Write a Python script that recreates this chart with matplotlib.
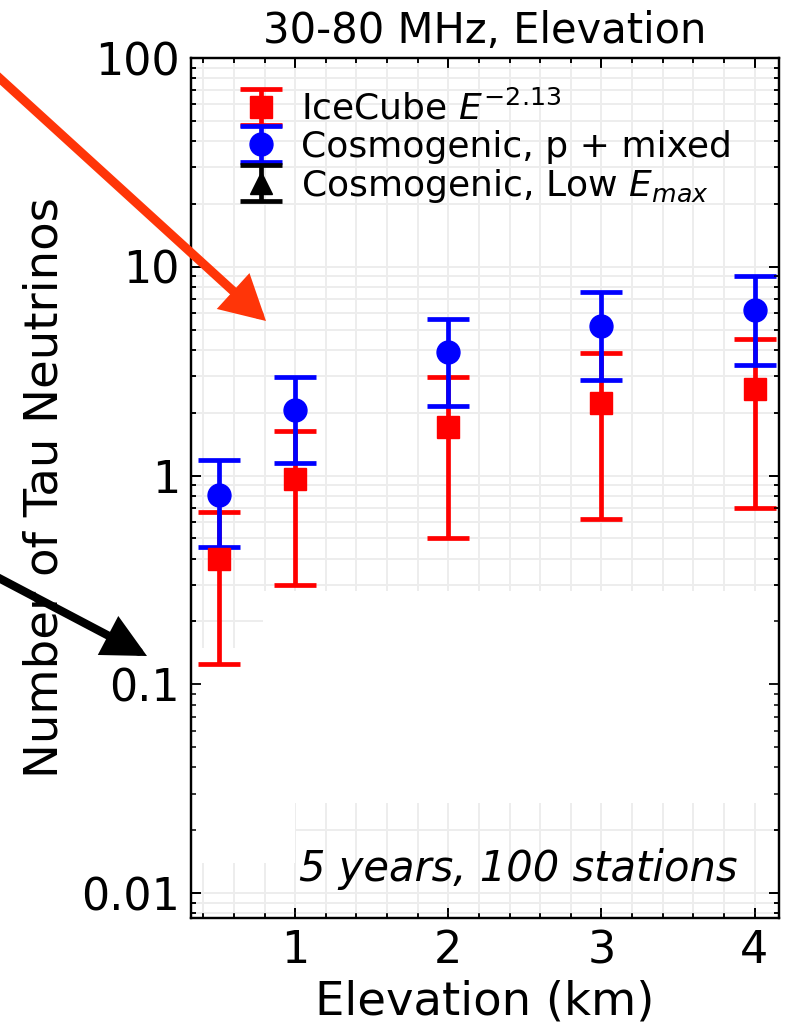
import matplotlib
matplotlib.use("Agg")
import numpy as np
import matplotlib.pyplot as plt
import matplotlib.ticker as ticker
from matplotlib.patches import Rectangle, FancyArrowPatch

# elevation (km) and event counts
elevation = [0.5, 1, 2, 3, 4]

icecube = [0.40, 0.96, 1.71, 2.23, 2.61]
icecube_lo = [0.125, 0.30, 0.50, 0.62, 0.70]
icecube_hi = [0.67, 1.63, 2.95, 3.85, 4.52]

cosmo_mixed = [0.81, 2.06, 3.89, 5.2, 6.23]
cosmo_mixed_lo = [0.457, 1.15, 2.15, 2.86, 3.39]
cosmo_mixed_hi = [1.19, 2.97, 5.62, 7.56, 9.05]

# low Emax model: no point shows up inside the plotted range
cosmo_low = [np.nan] * 5
cosmo_low_lo = [np.nan] * 5
cosmo_low_hi = [np.nan] * 5

labels = [r"IceCube $E^{-2.13}$", "Cosmogenic, p + mixed", r"Cosmogenic, Low $E_{max}$"]

W, H = 789, 1024
fig = plt.figure(figsize=(W / 100, H / 100), dpi=100)
left, right, top, bottom = 191, 779, 58, 918
pos = [left / W, 1 - bottom / H, (right - left) / W, (bottom - top) / H]
ax = fig.add_axes(pos)
ax.set_yscale("log")
ax.set_xlim(0.32, 4.16)
ax.set_ylim(0.0076, 100)
ax.set_axisbelow(True)

ax.xaxis.set_major_locator(ticker.MultipleLocator(1))
ax.xaxis.set_minor_locator(ticker.MultipleLocator(0.2))
ax.yaxis.set_major_locator(ticker.LogLocator(base=10, numticks=20))
ax.yaxis.set_minor_locator(ticker.LogLocator(base=10, subs=range(2, 10), numticks=100))
ax.yaxis.set_major_formatter(ticker.FuncFormatter(lambda v, _: f"{v:g}"))
ax.yaxis.set_minor_formatter(ticker.NullFormatter())
ax.grid(True, which="both", color="#ededed", lw=1.4)

# erased grid areas in the original picture
for x0, x1, y0, y1 in [(0.32, 0.79, 0.014, 0.15), (0.79, 1.0, 0.014, 0.28), (1.0, 4.16, 0.027, 0.28)]:
    ax.add_patch(Rectangle((x0, y0), x1 - x0, y1 - y0, facecolor="white",
                           edgecolor="none", zorder=0.8))

ebkw = dict(ms=16.5, elinewidth=3.4, capsize=15, capthick=3.4, linestyle="none")


def err(v, lo, hi):
    return [[a - b for a, b in zip(v, lo)], [c - a for a, c in zip(v, hi)]]


h1 = ax.errorbar(elevation, icecube, yerr=err(icecube, icecube_lo, icecube_hi),
                 fmt="s", color="#ff0000", **ebkw)
h2 = ax.errorbar(elevation, cosmo_mixed, yerr=err(cosmo_mixed, cosmo_mixed_lo, cosmo_mixed_hi),
                 fmt="o", color="#0000ff", **ebkw)
h3 = ax.errorbar(elevation, cosmo_low, yerr=err(cosmo_low, cosmo_low_lo, cosmo_low_hi),
                 fmt="^", color="black", **ebkw)

ax.legend([h1, h2, h3], labels, loc="upper left", bbox_to_anchor=(0.083, 0.962),
          frameon=False, fontsize=26, borderpad=0, borderaxespad=0,
          handlelength=1.2, handletextpad=0.5, labelspacing=0.08)

ax.tick_params(which="both", direction="in", top=True, right=True, labelsize=32, pad=8)
ax.tick_params(which="major", length=7, width=1.3)
ax.tick_params(which="minor", length=3.5, width=1.1)
for s in ax.spines.values():
    s.set_linewidth(1.6)

ax.set_title("30-80 MHz, Elevation", fontsize=30, pad=11)
ax.set_xlabel("Elevation (km)", fontsize=33.5)
ax.set_ylabel("Number of Tau Neutrinos", fontsize=33.5)
ax.xaxis.set_label_coords(0.5, -0.071)
ax.yaxis.set_label_coords(-0.21, 0.5)

ax.text(0.93, 0.043, "5 years, 100 stations", transform=ax.transAxes,
        ha="right", va="baseline", fontsize=30, style="italic")

# overlay axes so the ticks stay on top of the white patches
ax2 = fig.add_axes(pos, sharex=ax, sharey=ax)
ax2.set_facecolor("none")
ax2.tick_params(which="both", direction="in", top=True, right=True,
                labelleft=False, labelbottom=False)
ax2.tick_params(which="major", length=7, width=1.3)
ax2.tick_params(which="minor", length=3.5, width=1.1)
for s in ax2.spines.values():
    s.set_linewidth(1.6)

# arrows pasted over the figure edge
fig.add_artist(FancyArrowPatch(
    (-5 / W, 1 - 74 / H), (266 / W, 1 - 321 / H), transform=fig.transFigure,
    arrowstyle="-|>,head_length=22,head_width=12", mutation_scale=1,
    color="#ff3508", lw=6.5, shrinkA=0, shrinkB=0, joinstyle="miter"))
fig.add_artist(FancyArrowPatch(
    (-5 / W, 1 - 576 / H), (147 / W, 1 - 656 / H), transform=fig.transFigure,
    arrowstyle="-|>,head_length=22,head_width=11", mutation_scale=1,
    color="black", lw=6, shrinkA=0, shrinkB=0, joinstyle="miter"))

fig.savefig("out.png", dpi=100)
